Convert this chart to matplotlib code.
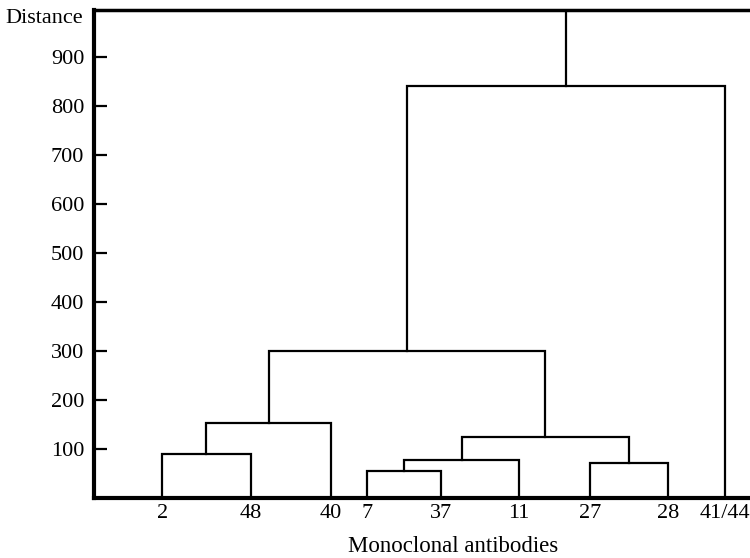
import matplotlib.pyplot as plt

plt.rcParams['font.family'] = ['Liberation Serif', 'DejaVu Serif']

# leaves in the order shown, with their positions along the axis
leaves = ['2', '48', '40', '7', '37', '11', '27', '28', '41/44']
leaf_x = [1.04, 2.39, 3.61, 4.16, 5.29, 6.48, 7.56, 8.75, 9.62]

# merges: (left node, right node, distance); nodes 0-8 are leaves, 9+ are clusters
merges = [
    (0, 1, 90),     # 2 + 48
    (9, 2, 152),    # + 40
    (3, 4, 55),     # 7 + 37
    (11, 5, 77),    # + 11
    (6, 7, 72),     # 27 + 28
    (12, 13, 125),
    (10, 14, 300),
    (15, 8, 840),   # + 41/44
]
top_height = 995

fig = plt.figure(figsize=(7.5, 5.58), dpi=100)
ax = fig.add_axes([0.1253, 0.1075, 0.8747, 0.8746])

node_x = list(leaf_x)
node_h = [0] * len(leaf_x)
for a, b, h in merges:
    ax.plot([node_x[a], node_x[a], node_x[b], node_x[b]],
            [node_h[a], h, h, node_h[b]], color='black', lw=1.6,
            solid_joinstyle='miter')
    node_x.append((node_x[a] + node_x[b]) / 2)
    node_h.append(h)

# stem of the root
ax.plot([node_x[-1], node_x[-1]], [node_h[-1], top_height], color='black', lw=1.6)

ax.set_xlim(0, 10)
ax.set_ylim(0, top_height)
ax.set_yticks(range(100, 1000, 100))
ax.set_xticks(leaf_x)
ax.set_xticklabels(leaves)
ax.tick_params(axis='y', direction='in', length=9, width=1.6, pad=7, labelsize=16)
ax.tick_params(axis='x', length=0, pad=4, labelsize=16)

ax.spines['right'].set_visible(False)
ax.spines['left'].set_linewidth(3)
ax.spines['bottom'].set_linewidth(3)
ax.spines['top'].set_linewidth(2.5)

ax.set_xlabel('Monoclonal antibodies', fontsize=16.5)
ax.xaxis.set_label_coords(0.547, -0.078)
fig.text(0.11, 0.966, 'Distance', ha='right', va='center', fontsize=16)

fig.savefig('out.png', dpi=100)
